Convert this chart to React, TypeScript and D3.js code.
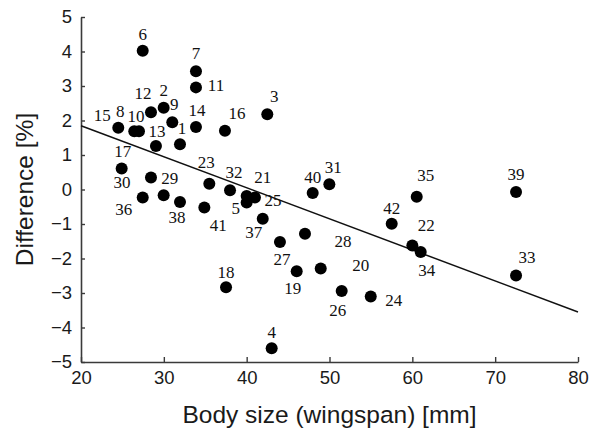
import React, { useEffect, useRef } from "react";
import * as d3 from "d3";

// species number, wingspan (mm) and difference (%)
const ids = [
  1, 2, 3, 4, 5, 6, 7, 8, 9, 10, 11, 12, 13, 14, 15, 16, 17, 18, 19, 20, 21,
  22, 23, 24, 25, 26, 27, 28, 29, 30, 31, 32, 33, 34, 35, 36, 37, 38, 39, 40,
  41, 42,
];
const wingspan = [
  31.95, 29.98, 42.49, 43.02, 40.0, 27.45, 33.88, 26.43, 31.02, 27.0, 33.88,
  28.45, 29.05, 33.88, 24.5, 37.38, 24.91, 37.51, 46.04, 48.94, 40.0, 60.0,
  35.49, 54.98, 41.0, 51.47, 44.02, 47.04, 29.98, 28.45, 49.98, 37.99, 72.52,
  61.01, 60.53, 27.45, 41.94, 31.95, 72.52, 47.97, 34.89, 57.51,
];
const difference = [
  1.31, 2.37, 2.18, -4.6, -0.38, 4.02, 3.43, 1.69, 1.95, 1.69, 2.96, 2.24,
  1.26, 1.81, 1.79, 1.7, 0.61, -2.83, -2.37, -2.29, -0.19, -1.62, 0.17, -3.1,
  -0.23, -2.94, -1.52, -1.28, -0.17, 0.35, 0.15, -0.02, -2.49, -1.81, -0.21,
  -0.23, -0.85, -0.36, -0.07, -0.1, -0.52, -0.99,
];

// regression line end points
const fitX = [20, 80];
const fitY = [1.85, -3.55];

const xTicks = [20, 30, 40, 50, 60, 70, 80];
const yTicks = [-5, -4, -3, -2, -1, 0, 1, 2, 3, 4, 5];

// where each number label sits relative to its dot (px)
const labelOffsets: Record<number, [number, number]> = {
  1: [2, -16], 2: [0, -18], 3: [7, -18], 4: [0, -16], 5: [-11, 6],
  6: [0, -17], 7: [0, -18], 8: [-14, -20], 9: [2, -18], 10: [-3, -15],
  11: [20, -2], 12: [-8, -19], 13: [1, -15], 14: [1, -17], 15: [-16, -13],
  16: [12, -18], 17: [1, -17], 18: [0, -15], 19: [-4, 17], 20: [40, -3],
  21: [16, -19], 22: [14, -20], 23: [-3, -21], 24: [23, 4], 25: [18, 3],
  26: [-4, 19], 27: [2, 17], 28: [38, 8], 29: [6, -17], 30: [-29, 5],
  31: [4, -17], 32: [4, -18], 33: [11, -18], 34: [6, 18], 35: [9, -22],
  36: [-19, 12], 37: [-9, 13], 38: [-3, 15], 39: [0, -18], 40: [0, -16],
  41: [14, 18], 42: [0, -15],
};

const width = 598;
const height = 432;
const margin = { left: 81, right: 20, top: 17, bottom: 70 };

const App = () => {
  const svgRef = useRef<SVGSVGElement>(null);

  useEffect(() => {
    const svg = d3.select(svgRef.current);
    svg.selectAll("*").remove();

    const x = d3
      .scaleLinear()
      .domain([20, 80])
      .range([margin.left, width - margin.right]);
    const y = d3
      .scaleLinear()
      .domain([-5, 5])
      .range([height - margin.bottom, margin.top]);

    const axisColor = "#3a3a3a";

    const gx = svg
      .append("g")
      .attr("transform", `translate(0, ${height - margin.bottom})`)
      .call(
        d3
          .axisBottom(x)
          .tickValues(xTicks)
          .tickSizeInner(-5)
          .tickSizeOuter(0)
          .tickPadding(9)
      );
    gx.selectAll("text")
      .attr("font-family", "Liberation Sans, Arial, sans-serif")
      .attr("font-size", 18.5)
      .attr("fill", "#1a1a1a");

    const gy = svg
      .append("g")
      .attr("transform", `translate(${margin.left}, 0)`)
      .call(
        d3
          .axisLeft(y)
          .tickValues(yTicks)
          .tickSizeInner(-4)
          .tickSizeOuter(0)
          .tickPadding(9)
      );
    gy.selectAll("text")
      .attr("font-family", "Liberation Sans, Arial, sans-serif")
      .attr("font-size", 18.5)
      .attr("fill", "#1a1a1a");

    svg.selectAll(".domain").attr("stroke", axisColor).attr("stroke-width", 1.6);
    svg.selectAll(".tick line").attr("stroke", axisColor).attr("stroke-width", 1.4);

    // axis titles
    svg
      .append("text")
      .attr("x", (margin.left + width - margin.right) / 2)
      .attr("y", 423)
      .attr("text-anchor", "middle")
      .attr("font-family", "Liberation Sans, Arial, sans-serif")
      .attr("font-size", 24.5)
      .attr("fill", "#1a1a1a")
      .text("Body size (wingspan) [mm]");

    svg
      .append("text")
      .attr("transform", `translate(33, ${y(0)}) rotate(-90)`)
      .attr("text-anchor", "middle")
      .attr("font-family", "Liberation Sans, Arial, sans-serif")
      .attr("font-size", 24.5)
      .attr("fill", "#1a1a1a")
      .text("Difference [%]");

    // regression line
    const line = d3
      .line<number>()
      .x((d) => x(fitX[d]))
      .y((d) => y(fitY[d]));
    svg
      .append("path")
      .datum([0, 1])
      .attr("fill", "none")
      .attr("stroke", "#111")
      .attr("stroke-width", 1.5)
      .attr("d", line);

    const points = ids.map((id, i) => ({
      id,
      w: wingspan[i],
      d: difference[i],
    }));

    svg
      .selectAll(".dot")
      .data(points)
      .join("circle")
      .attr("class", "dot")
      .attr("cx", (p) => x(p.w))
      .attr("cy", (p) => y(p.d))
      .attr("r", 6)
      .attr("fill", "#000");

    svg
      .selectAll(".num")
      .data(points)
      .join("text")
      .attr("class", "num")
      .attr("x", (p) => x(p.w) + labelOffsets[p.id][0])
      .attr("y", (p) => y(p.d) + labelOffsets[p.id][1])
      .attr("dy", "0.34em")
      .attr("text-anchor", "middle")
      .attr("font-family", "Liberation Serif, Times New Roman, serif")
      .attr("font-size", 17)
      .attr("fill", "#111")
      .text((p) => p.id);
  }, []);

  return (
    <svg
      ref={svgRef}
      width={width}
      height={height}
      style={{ position: "absolute", left: 0, top: 0, background: "#fff" }}
    />
  );
};

export default App;
